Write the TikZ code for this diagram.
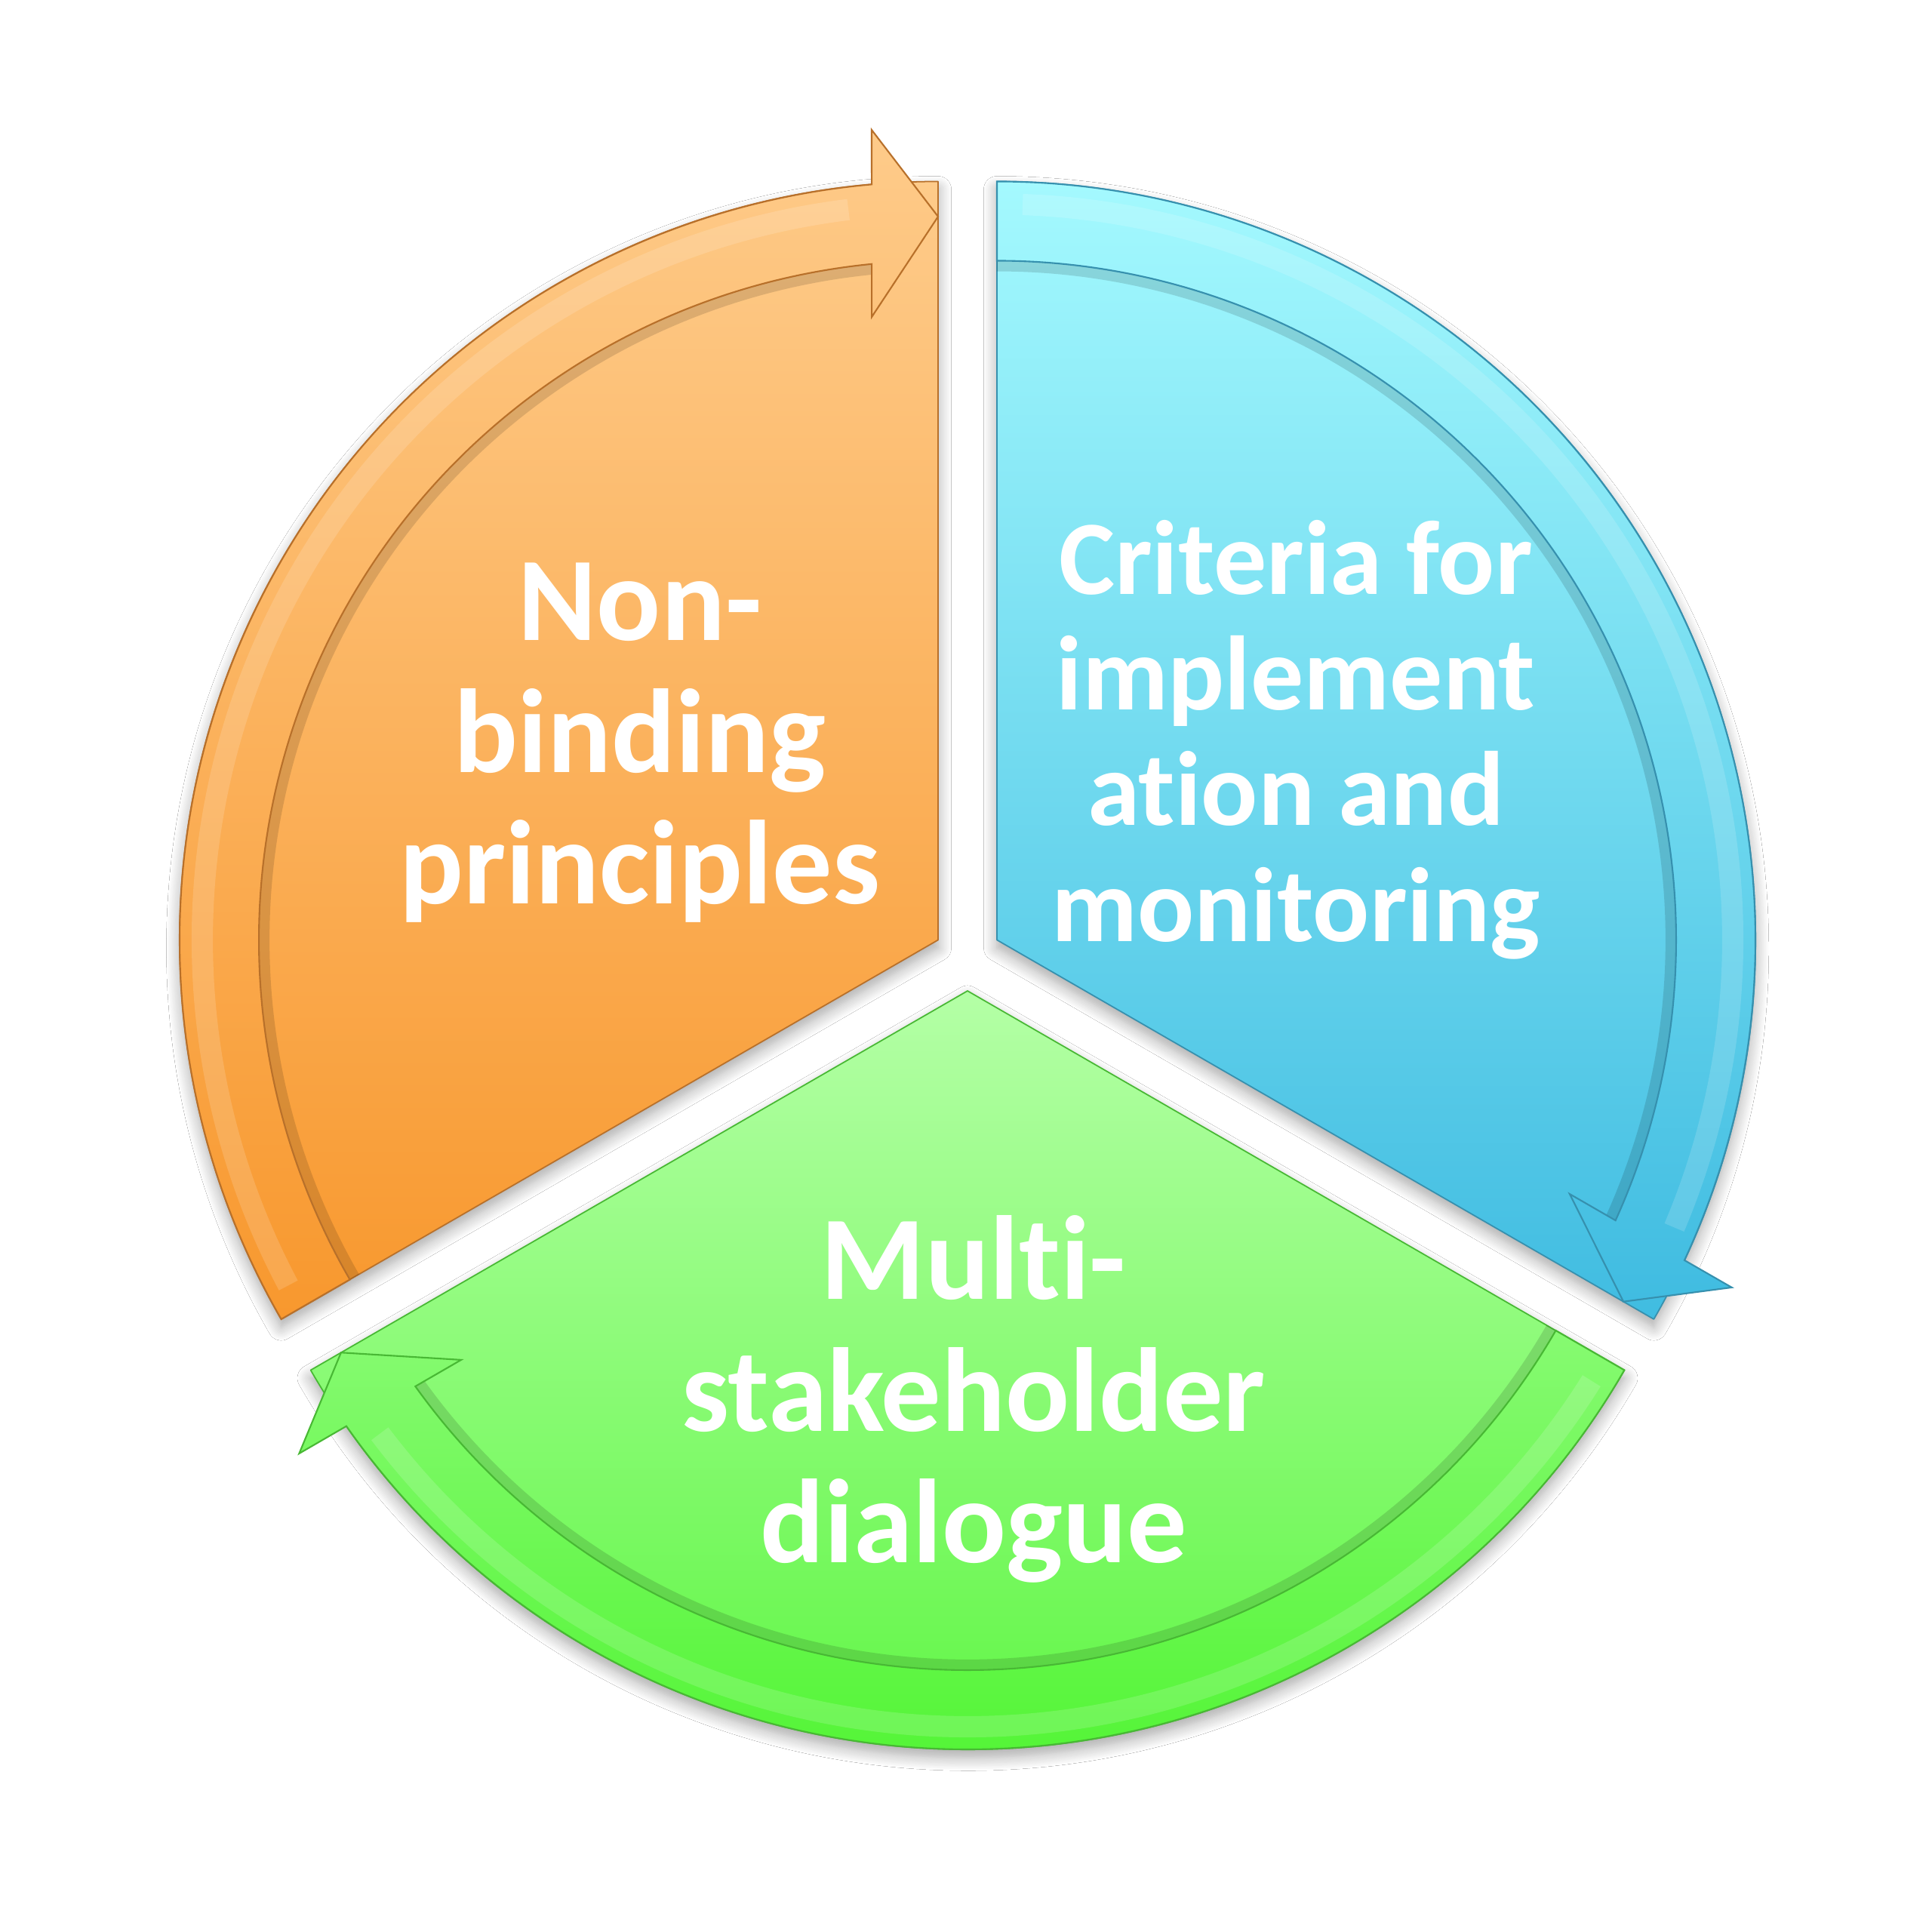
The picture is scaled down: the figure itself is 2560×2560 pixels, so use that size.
\documentclass[tikz,border=0pt]{standalone}
\usepackage{fontspec}
\setmainfont{Carlito}[Ligatures=NoCommon, RawFeature={-liga;-dlig}]
\usetikzlibrary{shadows.blur}
\definecolor{orTop}{HTML}{FECB8A}
\definecolor{orBot}{HTML}{F8982E}
\definecolor{orLine}{HTML}{B8702A}
\definecolor{blTop}{HTML}{A4F9FE}
\definecolor{blBot}{HTML}{40BCE1}
\definecolor{blLine}{HTML}{3690AE}
\definecolor{grTop}{HTML}{B4FFA6}
\definecolor{grBot}{HTML}{55F538}
\definecolor{grLine}{HTML}{48B834}
\colorlet{grBand}{grTop!52!grBot}
\tikzset{
  sect/.style={line width=0.5pt, line join=round,
    blur shadow={shadow xshift=0pt, shadow yshift=-3pt, shadow blur radius=5pt,
      shadow opacity=35, shadow blur steps=10}},
  band/.style={line width=0.6pt, line join=miter},
  innersh/.style={draw=black, draw opacity=0.13, line width=8pt},
  hilite/.style={draw=white, draw opacity=0.15, line width=8pt},
  lbl/.style={text=white, font=\bfseries\fontsize{45}{50}\selectfont, anchor=base, inner sep=0pt},
  lblb/.style={lbl, font=\bfseries\fontsize{39.8}{44}\selectfont}
}
\begin{document}
\begin{tikzpicture}[x=0.01cm,y=0.01cm]
\useasboundingbox (0,0) rectangle (2560,2560);
\fill[white] (0,0) rectangle (2560,2560);

% orange segment
\begin{scope}[shift={(1243,1314.5)}]
  \path[sect, top color=orTop, bottom color=orBot, draw=orLine]
    (0,0) -- (90:1005) arc[start angle=90, end angle=210, radius=1005] -- cycle;
  \draw[innersh] (95.61:900) arc[start angle=95.61, end angle=210, radius=900];
  \path[band, top color=orTop, bottom color=orBot, draw=orLine]
    (210:1005) arc[start angle=210, end angle=95.02, radius=1005]
    -- (94.69:1077.1) -- (90:958.5) -- (96.08:830.2)
    -- (95.61:900) arc[start angle=95.61, end angle=210, radius=900] -- cycle;
  \draw[hilite] (208:975) arc[start angle=208, end angle=97, radius=975];
\end{scope}

% blue segment
\begin{scope}[shift={(1321,1314.5)}]
  \path[sect, top color=blTop, bottom color=blBot, draw=blLine]
    (0,0) -- (-30:1005) arc[start angle=-30, end angle=90, radius=1005] -- cycle;
  \draw[innersh] (-24.39:900) arc[start angle=-24.39, end angle=90, radius=900];
  \path[band, top color=blTop, bottom color=blBot, draw=blLine]
    (90:1005) arc[start angle=90, end angle=-24.98, radius=1005]
    -- (-25.31:1077.1) -- (-30:958.5) -- (-23.92:830.2)
    -- (-24.39:900) arc[start angle=-24.39, end angle=90, radius=900] -- cycle;
  \draw[hilite] (88:975) arc[start angle=88, end angle=-23, radius=975];
\end{scope}

% green segment
\begin{scope}[shift={(1282,1247)}]
  \path[sect, top color=grTop, bottom color=grBot, draw=grLine]
    (0,0) -- (210:1005) arc[start angle=210, end angle=330, radius=1005] -- cycle;
  \draw[innersh] (215.61:900) arc[start angle=215.61, end angle=330, radius=900];
  \path[band, top color=grBand, bottom color=grBot, draw=grLine]
    (330:1005) arc[start angle=330, end angle=215.02, radius=1005]
    -- (214.69:1077.1) -- (210:958.5) -- (216.08:830.2)
    -- (215.61:900) arc[start angle=215.61, end angle=330, radius=900] -- cycle;
  \draw[hilite] (328:975) arc[start angle=328, end angle=217, radius=975];
\end{scope}

% labels
\node[lbl] (o1) at (848,1711) {Non-};
\node[lbl] (o2) at (848,1536.5) {binding};
\node[lbl] (o3) at (848,1362) {principles};

\node[lblb] (b1) at (1717,1772) {Criteria for};
\node[lblb] (b2) at (1717,1619) {implement};
\node[lblb] (b3) at (1717,1466) {ation and};
\node[lblb] (b4) at (1717,1312) {monitoring};

\node[lbl] (g1) at (1290,838) {Multi-};
\node[lbl] (g2) at (1290,663) {stakeholder};
\node[lbl] (g3) at (1290,489) {dialogue};
\end{tikzpicture}
\end{document}
